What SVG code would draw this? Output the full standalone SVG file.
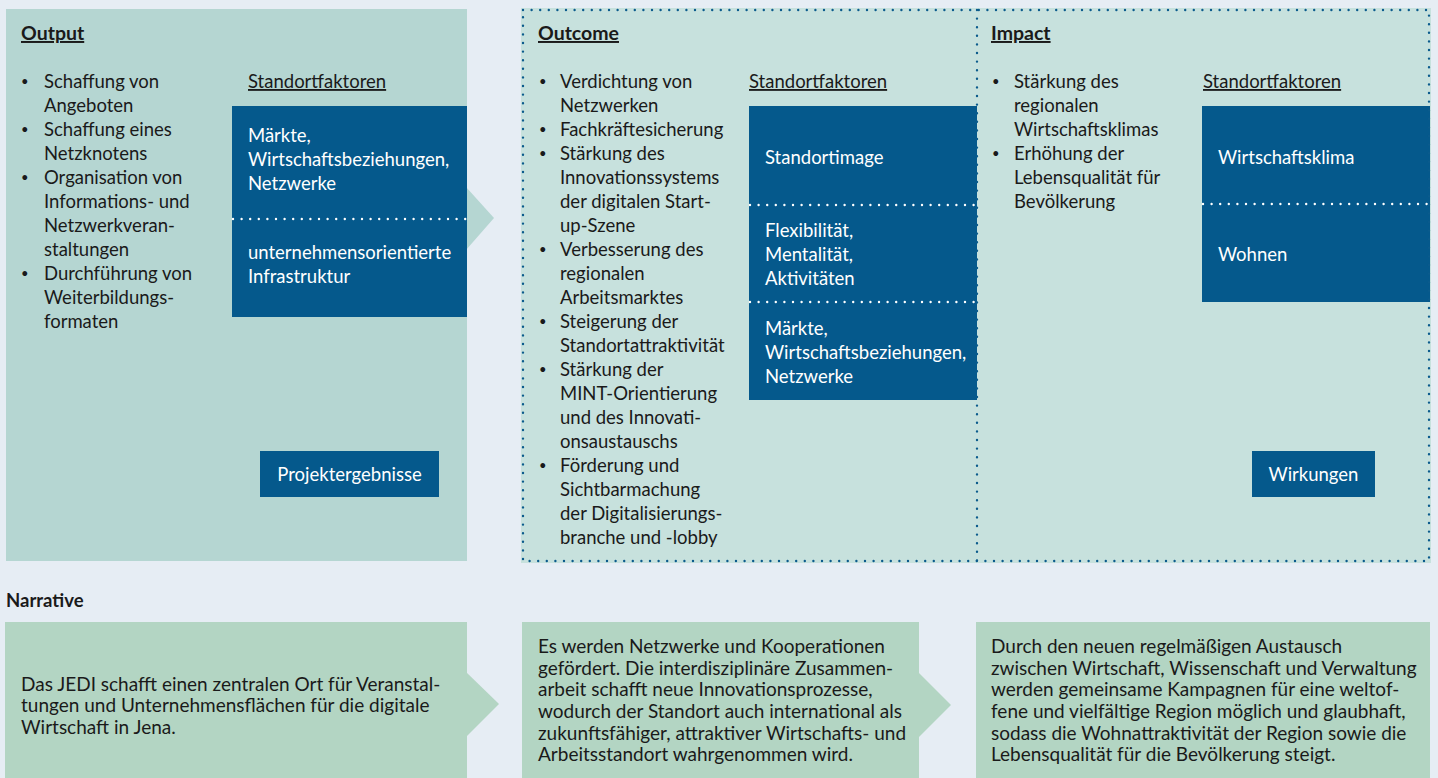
<svg xmlns="http://www.w3.org/2000/svg" width="1438" height="778" viewBox="0 0 1438 778">
<defs>
<style>
text{font-family:Lato,"Liberation Sans",sans-serif;fill:#1a1a1a;font-size:18.5px}
.h{font-weight:bold;text-decoration:underline;font-size:19.5px}
.u{text-decoration:underline}
.w{fill:#ffffff}
.n{font-size:19px}
.b{font-size:13px}
.blue{fill:#05598c}
.dotb{fill:none;stroke:#0b5b8c;stroke-width:2.4;stroke-linecap:round;stroke-dasharray:0 8.6}
.dotw{fill:none;stroke:#ffffff;stroke-width:2.4;stroke-linecap:round;stroke-dasharray:0 8.6}
.p1{fill:#b5d6d2}
.p2{fill:#c7e1dd}
.g{fill:#b3d5c3}
</style>
</defs>
<rect width="1438" height="778" fill="#e6edf4"/>

<g id="connectors">
<polygon class="p1" points="466,187 494,218 466,250"/>
<polygon class="g" points="466,672 499,704 466,737"/>
<polygon class="g" points="918,672 951,705 918,738"/>
</g>

<g id="output">
<rect class="p1" x="6" y="9" width="461" height="552"/>
<text class="h" x="21" y="40">Output</text>
<text class="b" x="21" y="86">•</text>
<text class="b" x="21" y="134">•</text>
<text class="b" x="21" y="182">•</text>
<text class="b" x="21" y="278">•</text>
<text x="44" y="88">Schaffung von</text>
<text x="44" y="112">Angeboten</text>
<text x="44" y="136">Schaffung eines</text>
<text x="44" y="160">Netzknotens</text>
<text x="44" y="184">Organisation von</text>
<text x="44" y="208">Informations- und</text>
<text x="44" y="232">Netzwerkveran-</text>
<text x="44" y="256">staltungen</text>
<text x="44" y="280">Durchführung von</text>
<text x="44" y="304">Weiterbildungs-</text>
<text x="44" y="328">formaten</text>
<text class="u" x="248" y="88">Standortfaktoren</text>
</g>
<g id="output-factors">
<rect class="blue" x="232" y="106" width="235" height="211"/>
<line class="dotw" x1="233" y1="219" x2="467" y2="219"/>
<text class="w" x="248" y="142">Märkte,</text>
<text class="w" x="248" y="166">Wirtschaftsbeziehungen,</text>
<text class="w" x="248" y="190">Netzwerke</text>
<text class="w" x="248" y="259">unternehmensorientierte</text>
<text class="w" x="248" y="283">Infrastruktur</text>
</g>
<g id="projektergebnisse">
<rect class="blue" x="260" y="451" width="179" height="46"/>
<text class="w" x="349.5" y="481" text-anchor="middle">Projektergebnisse</text>
</g>

<g id="outcome">
<rect class="p2" x="521" y="8" width="910" height="555"/>
<text class="h" x="538" y="40">Outcome</text>
<text class="b" x="539" y="86">•</text>
<text class="b" x="539" y="134">•</text>
<text class="b" x="539" y="158">•</text>
<text class="b" x="539" y="254">•</text>
<text class="b" x="539" y="326">•</text>
<text class="b" x="539" y="374">•</text>
<text class="b" x="539" y="470">•</text>
<text x="560" y="88">Verdichtung von</text>
<text x="560" y="112">Netzwerken</text>
<text x="560" y="136">Fachkräftesicherung</text>
<text x="560" y="160">Stärkung des</text>
<text x="560" y="184">Innovationssystems</text>
<text x="560" y="208">der digitalen Start-</text>
<text x="560" y="232">up-Szene</text>
<text x="560" y="256">Verbesserung des</text>
<text x="560" y="280">regionalen</text>
<text x="560" y="304">Arbeitsmarktes</text>
<text x="560" y="328">Steigerung der</text>
<text x="560" y="352">Standortattraktivität</text>
<text x="560" y="376">Stärkung der</text>
<text x="560" y="400">MINT-Orientierung</text>
<text x="560" y="424">und des Innovati-</text>
<text x="560" y="448">onsaustauschs</text>
<text x="560" y="472">Förderung und</text>
<text x="560" y="496">Sichtbarmachung</text>
<text x="560" y="520">der Digitalisierungs-</text>
<text x="560" y="544">branche und -lobby</text>
<text class="u" x="749" y="88">Standortfaktoren</text>
</g>
<g id="outcome-factors">
<rect class="blue" x="749" y="106" width="228" height="294"/>
<line class="dotw" x1="750" y1="205" x2="976" y2="205"/>
<line class="dotw" x1="750" y1="302" x2="976" y2="302"/>
<text class="w" x="765" y="164">Standortimage</text>
<text class="w" x="765" y="237">Flexibilität,</text>
<text class="w" x="765" y="261">Mentalität,</text>
<text class="w" x="765" y="285">Aktivitäten</text>
<text class="w" x="765" y="335">Märkte,</text>
<text class="w" x="765" y="359">Wirtschaftsbeziehungen,</text>
<text class="w" x="765" y="383">Netzwerke</text>
</g>

<g id="impact">
<text class="h" x="991" y="40">Impact</text>
<text class="b" x="992" y="86">•</text>
<text class="b" x="992" y="158">•</text>
<text x="1014" y="88">Stärkung des</text>
<text x="1014" y="112">regionalen</text>
<text x="1014" y="136">Wirtschaftsklimas</text>
<text x="1014" y="160">Erhöhung der</text>
<text x="1014" y="184">Lebensqualität für</text>
<text x="1014" y="208">Bevölkerung</text>
<text class="u" x="1203" y="88">Standortfaktoren</text>
</g>
<g id="impact-factors">
<rect class="blue" x="1202" y="106" width="228" height="196"/>
<line class="dotw" x1="1203" y1="204" x2="1429" y2="204"/>
<text class="w" x="1218" y="164">Wirtschaftsklima</text>
<text class="w" x="1218" y="261">Wohnen</text>
</g>
<g id="wirkungen">
<rect class="blue" x="1252" y="451" width="123" height="46"/>
<text class="w" x="1313.5" y="481" text-anchor="middle">Wirkungen</text>
</g>
<g id="outcome-impact-border">
<rect class="dotb" x="523" y="10" width="906" height="551"/>
<line class="dotb" x1="977" y1="10" x2="977" y2="561"/>
</g>

<g id="narrative">
<text x="6" y="607" font-weight="bold" font-size="18">Narrative</text>
</g>
<g id="narrative-1">
<rect class="g" x="5" y="622" width="462" height="156"/>
<text class="n" x="21" y="691">Das JEDI schafft einen zentralen Ort für Veranstal-</text>
<text class="n" x="21" y="712">tungen und Unternehmensflächen für die digitale</text>
<text class="n" x="21" y="734">Wirtschaft in Jena.</text>
</g>
<g id="narrative-2">
<rect class="g" x="522" y="622" width="397" height="156"/>
<text class="n" x="538" y="653">Es werden Netzwerke und Kooperationen</text>
<text class="n" x="538" y="675">gefördert. Die interdisziplinäre Zusammen-</text>
<text class="n" x="538" y="696">arbeit schafft neue Innovationsprozesse,</text>
<text class="n" x="538" y="718">wodurch der Standort auch international als</text>
<text class="n" x="538" y="740">zukunftsfähiger, attraktiver Wirtschafts- und</text>
<text class="n" x="538" y="761">Arbeitsstandort wahrgenommen wird.</text>
</g>
<g id="narrative-3">
<rect class="g" x="976" y="622" width="454" height="156"/>
<text class="n" x="991" y="653">Durch den neuen regelmäßigen Austausch</text>
<text class="n" x="991" y="675">zwischen Wirtschaft, Wissenschaft und Verwaltung</text>
<text class="n" x="991" y="696">werden gemeinsame Kampagnen für eine weltof-</text>
<text class="n" x="991" y="718">fene und vielfältige Region möglich und glaubhaft,</text>
<text class="n" x="991" y="740">sodass die Wohnattraktivität der Region sowie die</text>
<text class="n" x="991" y="761">Lebensqualität für die Bevölkerung steigt.</text>
</g>
</svg>
